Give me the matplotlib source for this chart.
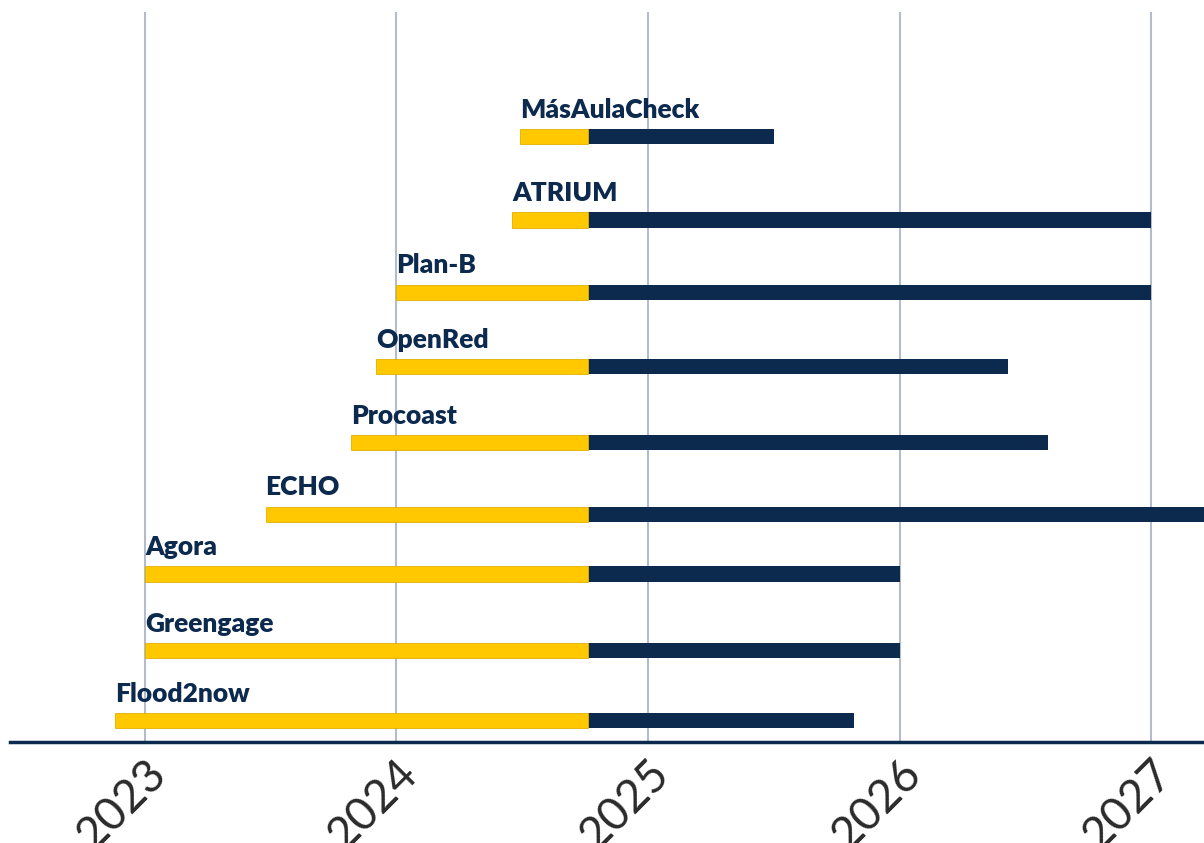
import matplotlib
matplotlib.use("Agg")
import matplotlib.pyplot as plt

# project timeline data (decimal years)
projects = ["Flood2now", "Greengage", "Agora", "ECHO", "Procoast",
            "OpenRed", "Plan-B", "ATRIUM", "MásAulaCheck"]
starts = [2022.88, 2023.0, 2023.0, 2023.48, 2023.82, 2023.92, 2024.0, 2024.46, 2024.49]
ends = [2025.82, 2026.0, 2026.0, 2027.6, 2026.59, 2026.43, 2027.0, 2027.0, 2025.50]
today = 2024.76
years = [2023, 2024, 2025, 2026, 2027]

# row layout (the source spacing is slightly uneven)
rows = [0.0, 0.96, 2.01, 2.83, 3.81, 4.85, 5.87, 6.86, 8.0]

navy = "#0c2a4e"
yellow = "#ffc800"

plt.rcParams['font.family'] = ['Lato', 'DejaVu Sans']

fig = plt.figure(figsize=(12.04, 8.43), dpi=100)
ax = fig.add_axes([10 / 1204, 101 / 843, 1 - 10 / 1204, 730 / 843])

h = 0.21
for y, name, s, e in zip(rows, projects, starts, ends):
    ax.barh(y, e - today, left=today, height=h, color=navy, zorder=3)
    ax.barh(y, today - s, left=s, height=h, color=yellow,
            edgecolor="#e0b000", linewidth=0.6, zorder=4)
    ax.text(s, y + 0.26, name, ha="left", va="baseline", fontsize=19,
            fontweight="heavy", color=navy, zorder=5)

ax.set_xlim(2022.464, 2027.21)
ax.set_ylim(-0.29, 9.71)
ax.set_xticks(years)
ax.set_xticklabels([str(y) for y in years], rotation=45, ha="right",
                   rotation_mode="anchor", fontsize=33, color="#2a2a2a")
ax.tick_params(axis="x", length=0, pad=7)
ax.set_yticks([])
ax.grid(axis="x", color="#b4bccb", linewidth=1.5, zorder=0)

for side in ["top", "right", "left"]:
    ax.spines[side].set_visible(False)
ax.spines["bottom"].set_color(navy)
ax.spines["bottom"].set_linewidth(2.5)

plt.savefig("out.png", dpi=100)
